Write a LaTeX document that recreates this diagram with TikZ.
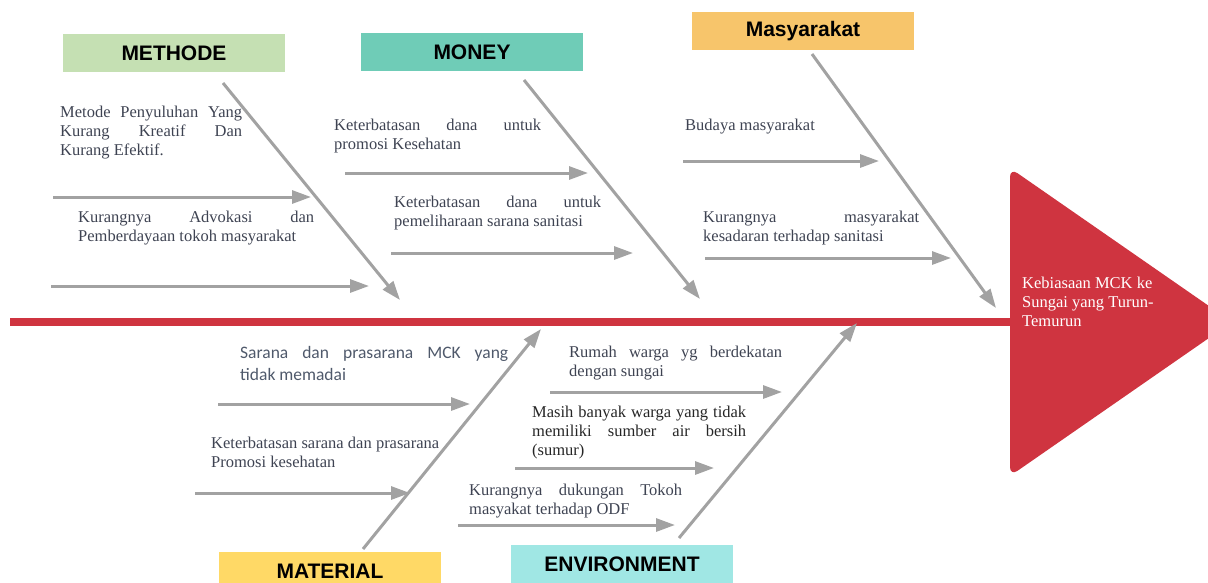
\documentclass[tikz,border=0pt]{standalone}
\usepackage{fontspec}
\setmainfont{Liberation Serif}
\setsansfont{Liberation Sans}
\newfontfamily\calibrifont{Carlito}
\usepackage{xcolor}
\usetikzlibrary{arrows.meta}

\definecolor{bonegray}{HTML}{A2A2A2}
\definecolor{fishred}{HTML}{CF3440}
\definecolor{causetext}{HTML}{3E4352}
\definecolor{sanstext}{HTML}{4F596B}
\definecolor{methodegreen}{HTML}{C5E0B3}
\definecolor{moneyteal}{HTML}{6FCCB7}
\definecolor{masyorange}{HTML}{F7C56B}
\definecolor{materialyellow}{HTML}{FFD966}
\definecolor{envcyan}{HTML}{A0E7E4}

\hyphenpenalty=10000
\exhyphenpenalty=10000

\tikzset{
  cat/.style={minimum width=222pt,minimum height=38pt,inner sep=0pt,
    font=\sffamily\bfseries\fontsize{21}{24}\selectfont},
  cause/.style={anchor=north west,inner sep=0pt,align=justify,text=causetext,
    font=\fontsize{16.5}{18.7}\selectfont},
  sanscause/.style={cause,text=sanstext,font=\calibrifont\fontsize{17.5}{22}\selectfont},
  bone/.style={draw=bonegray,line width=3pt,-{Triangle[length=19pt,width=13pt]}},
  spine/.style={draw=fishred,line width=7.5pt},
}

\begin{document}
\begin{tikzpicture}[x=1pt,y=-1pt]
  \useasboundingbox (0,0) rectangle (1208,582);
  \clip (0,0) rectangle (1208,582);

  % head and spine
  \fill[fishred,rounded corners=9pt] (1010,322) -- (1010,168) -- (1232,322) -- (1010,476) -- cycle;
  \coordinate (tail) at (10,322);
  \coordinate (neck) at (1011,322);
  \draw[spine] (tail) -- (neck);
  \node[anchor=north west,inner sep=0pt,align=left,text=white,
    font=\fontsize{16.5}{19}\selectfont] (effect) at (1022,277)
    {Kebiasaan MCK ke\\Sungai yang Turun-\\Temurun};

  % category boxes
  \node[cat,fill=methodegreen] (methode) at (174,53) {METHODE};
  \node[cat,fill=moneyteal] (money) at (472,52) {MONEY};
  \node[cat,fill=masyorange] (masy) at (803,31) {Masyarakat};
  \node[cat,fill=materialyellow] (material) at (330,571) {MATERIAL};
  \node[cat,fill=envcyan] (env) at (622,564) {ENVIRONMENT};

  % main bones
  \coordinate (methode-s) at (223,83);
  \coordinate (methode-e) at (400,300);
  \coordinate (money-s) at (524,80);
  \coordinate (money-e) at (700,299);
  \coordinate (masy-s) at (812,54);
  \coordinate (masy-e) at (996,308);
  \coordinate (material-s) at (363,549);
  \coordinate (material-e) at (541,329);
  \coordinate (env-s) at (679,538);
  \coordinate (env-e) at (857,323);
  \draw[bone] (methode-s) -- (methode-e);
  \draw[bone] (money-s) -- (money-e);
  \draw[bone] (masy-s) -- (masy-e);
  \draw[bone] (material-s) -- (material-e);
  \draw[bone] (env-s) -- (env-e);

  % small bones
  \coordinate (r1-s) at (53,197);   \coordinate (r1-e) at (311,197);
  \coordinate (r2-s) at (51,286);   \coordinate (r2-e) at (369,286);
  \coordinate (r3-s) at (345,173);  \coordinate (r3-e) at (588,173);
  \coordinate (r4-s) at (391,253);  \coordinate (r4-e) at (633,253);
  \coordinate (r5-s) at (683,161);  \coordinate (r5-e) at (879,161);
  \coordinate (r6-s) at (705,258);  \coordinate (r6-e) at (951,258);
  \coordinate (r7-s) at (218,404);  \coordinate (r7-e) at (470,404);
  \coordinate (r8-s) at (195,493);  \coordinate (r8-e) at (410,493);
  \coordinate (r9-s) at (550,392);  \coordinate (r9-e) at (782,392);
  \coordinate (r10-s) at (515,468); \coordinate (r10-e) at (714,468);
  \coordinate (r11-s) at (458,525); \coordinate (r11-e) at (675,525);
  \draw[bone] (r1-s) -- (r1-e);
  \draw[bone] (r2-s) -- (r2-e);
  \draw[bone] (r3-s) -- (r3-e);
  \draw[bone] (r4-s) -- (r4-e);
  \draw[bone] (r5-s) -- (r5-e);
  \draw[bone] (r6-s) -- (r6-e);
  \draw[bone] (r7-s) -- (r7-e);
  \draw[bone] (r8-s) -- (r8-e);
  \draw[bone] (r9-s) -- (r9-e);
  \draw[bone] (r10-s) -- (r10-e);
  \draw[bone] (r11-s) -- (r11-e);

  % causes
  \node[cause,text width=182pt] (c1) at (60,106)
    {Metode Penyuluhan Yang\linebreak Kurang Kreatif Dan\linebreak Kurang Efektif.};
  \node[cause,text width=236pt] (c2) at (78,211)
    {Kurangnya Advokasi dan\linebreak Pemberdayaan tokoh masyarakat};
  \node[cause,text width=207pt] (c3) at (334,119)
    {Keterbatasan dana untuk\linebreak promosi Kesehatan};
  \node[cause,text width=207pt] (c4) at (394,196)
    {Keterbatasan dana untuk\linebreak pemeliharaan sarana sanitasi};
  \node[cause,text width=216pt] (c5) at (685,119) {Budaya masyarakat};
  \node[cause,text width=216pt] (c6) at (703,211)
    {Kurangnya masyarakat\linebreak kesadaran terhadap sanitasi};
  \node[sanscause,text width=268pt] (c7) at (240,346)
    {Sarana dan prasarana MCK yang\linebreak tidak memadai};
  \node[cause,text width=228pt] (c8) at (211,437)
    {Keterbatasan sarana dan prasarana\linebreak Promosi kesehatan};
  \node[cause,text width=213pt] (c9) at (569,346)
    {Rumah warga yg berdekatan\linebreak dengan sungai};
  \node[cause,text width=214pt,text=black!85] (c10) at (532,406)
    {Masih banyak warga yang tidak\linebreak memiliki sumber air bersih\linebreak (sumur)};
  \node[cause,text width=213pt] (c11) at (469,484)
    {Kurangnya dukungan Tokoh\linebreak masyakat terhadap ODF};
\end{tikzpicture}
\end{document}
